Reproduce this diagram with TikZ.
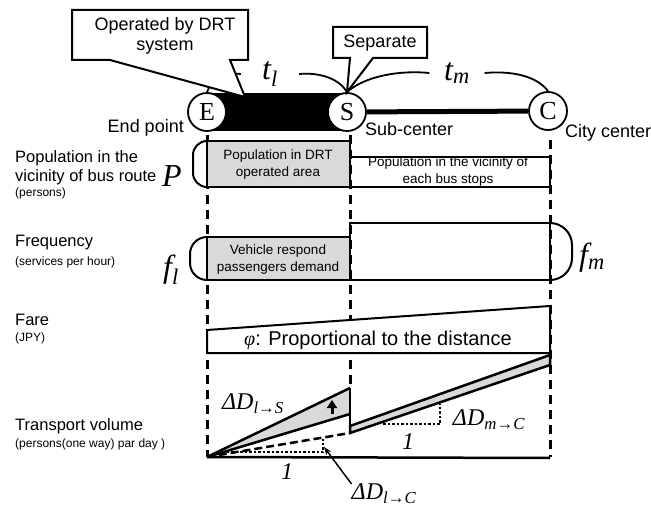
\documentclass[tikz,border=0pt]{standalone}
\usepackage{fontspec}
\setmainfont{Liberation Sans}
\newfontfamily\tnr{Liberation Serif}
\usetikzlibrary{arrows.meta}

\newcommand{\sz}[2]{\fontsize{#1}{#2}\selectfont}
\newcommand{\vsym}[2]{{\tnr\itshape #1\textsubscript{#2}}}

\begin{document}
\begin{tikzpicture}[x=1pt,y=-1pt]
\tikzset{stop/.style = {shape=circle,draw,line width=1.8pt,fill=white,minimum size=38pt,inner sep=0pt,font=\tnr\sz{26}{26}},
  box/.style = {draw,line width=2pt},
  grid/.style = {line width=3pt,dash pattern=on 9pt off 6pt},
  trend/.style = {line width=2.5pt},
  row/.style = {anchor=west,align=left,inner sep=0pt,font=\sz{16.5}{19}},
  unit/.style = {anchor=west,inner sep=0pt,font=\sz{12}{14}},
  place/.style = {inner sep=0pt,font=\sz{18}{20}},
  boxtext/.style = {align=center,inner sep=0pt,font=\sz{13.5}{17}},
  sym/.style = {inner sep=0pt,font=\sz{32}{32}},
  small sym/.style = {inner sep=0pt,font=\sz{24}{24}}}
\useasboundingbox (0,0) rectangle (651,508);

% columns
\foreach \x/\a/\b in {207/135/457,350/135/388,550/140/457} {
    \draw[grid] (\x,\a) -- (\x,\b);
}

% route
\fill (207,93) rectangle (347,131);
\node[stop] (E) at (207,112) {E};
\node[stop] (S) at (347,112) {S};
\node[stop] (C) at (548,111) {C};
\draw[line width=5pt] (S) -- (C);
\node[place,anchor=east] (endpt) at (184,128) {End point};
\node[place,anchor=west] (subc) at (365,129) {Sub-center};
\node[place,anchor=west] (cityc) at (565,133) {City center};

% travel times
\node[sym,minimum width=58pt] (tl) at (270,74) {\vsym{t}{l}};
\node[sym,minimum width=55pt] (tm) at (457,73) {\vsym{t}{m}};
\draw[line width=1.8pt] (E.north) .. controls (212,78) and (225,72) .. (tl.west);
\draw[line width=1.8pt] (tl.east) .. controls (322,72) and (340,80) .. (S.north);
\draw[line width=1.8pt] (S.north) .. controls (365,76) and (400,70) .. (tm.west);
\draw[line width=1.8pt] (tm.east) .. controls (520,70) and (540,80) .. (C.north);

% callouts
\coordinate (drt tip) at (245,97);
\draw[box,fill=white] (72,10) -- (248,10) -- (248,60) -- (230,60) -- (drt tip) -- (110,60) -- (72,60) -- cycle;
\node[place,align=center] (drt) at (165,36) {Operated by DRT\\system};
\draw[box,fill=white] (333,27) -- (427,27) -- (427,58) -- (373,58) -- (S.north) -- (350,58) -- (333,58) -- cycle;
\node[place] (sep) at (380,43) {Separate};

% population
\draw[box,fill=gray!30] (207,141) rectangle (350,187);
\draw[box] (350,157) rectangle (550,187);
\draw[box,rounded corners=14pt] (207,141) -- (193,141) -- (193,187) -- (207,187);
\node[boxtext] (popdrt) at (278,165) {Population in DRT\\operated area};
\node[boxtext] (popbus) at (448,172) {Population in the vicinity of\\each bus stops};
\node[sym] (P) at (172,176) {\tnr\itshape P};

% frequency
\draw[box,fill=gray!30] (207,237) rectangle (350,280);
\draw[box] (350,223) rectangle (550,280);
\draw[box,rounded corners=17pt] (207,237) -- (190,237) -- (190,280) -- (207,280);
\draw[box,rounded corners=22pt] (550,223) -- (572,223) -- (572,280) -- (550,280);
\node[boxtext] (veh) at (278,260) {Vehicle respond\\passengers demand};
\node[sym] (fl) at (171,270) {\vsym{f}{l}};
\node[sym] (fm) at (592,258) {\vsym{f}{m}};

% fare
\draw[box,fill=white] (207,330) -- (550,306) -- (550,353) -- (207,353) -- cycle;
\node[inner sep=0pt,font=\sz{20}{20}] (fare) at (378,340) {{\tnr\itshape φ}: Proportional to the distance};

% transport volume
\coordinate (O) at (207,457);
\fill[gray!30] (O) -- (350,388) -- (350,414) -- cycle;
\draw[trend] (O) -- (350,388);
\draw[trend] (O) -- (350,414);
\draw[trend] (350,388) -- (350,433);
\draw[trend,dash pattern=on 8pt off 4pt] (O) -- (350,433);
\draw[trend,fill=gray!30] (350,426) -- (550,355) -- (550,365) -- (350,433) -- cycle;
\draw[trend] (O) -- (550,458);
\draw[-{Triangle[width=10pt,length=8pt]},line width=3pt] (332,414) -- (332,400);
\draw[trend,dotted] (222,452) -- (323,452) -- (323,439);
\draw[trend,dotted] (383,424) -- (440,424) -- (440,404);
\node[small sym] (dls) at (253,404) {\vsym{ΔD}{l→S}};
\node[small sym] (dmc) at (489,420) {\vsym{ΔD}{m→C}};
\node[small sym] (dlc) at (384,494) {\vsym{ΔD}{l→C}};
\node[small sym] (one l) at (287,472) {\tnr\itshape 1};
\node[small sym] (one m) at (408,442) {\tnr\itshape 1};
\coordinate (lc tip) at (324,447);
\draw[-{Stealth[length=8pt]},line width=1.5pt] (dlc.north west) -- (lc tip);

% row labels
\node[row] (poplbl) at (15,168) {Population in the\\vicinity of bus route};
\node[unit] (popunit) at (15,193) {(persons)};
\node[row] (freqlbl) at (15,243) {Frequency};
\node[unit] (frequnit) at (15,262) {(services per hour)};
\node[row] (farelbl) at (15,320) {Fare};
\node[unit] (fareunit) at (15,338) {(JPY)};
\node[row] (tvlbl) at (15,426) {Transport volume};
\node[unit] (tvunit) at (15,444) {(persons(one way) par day )};
\end{tikzpicture}
\end{document}
